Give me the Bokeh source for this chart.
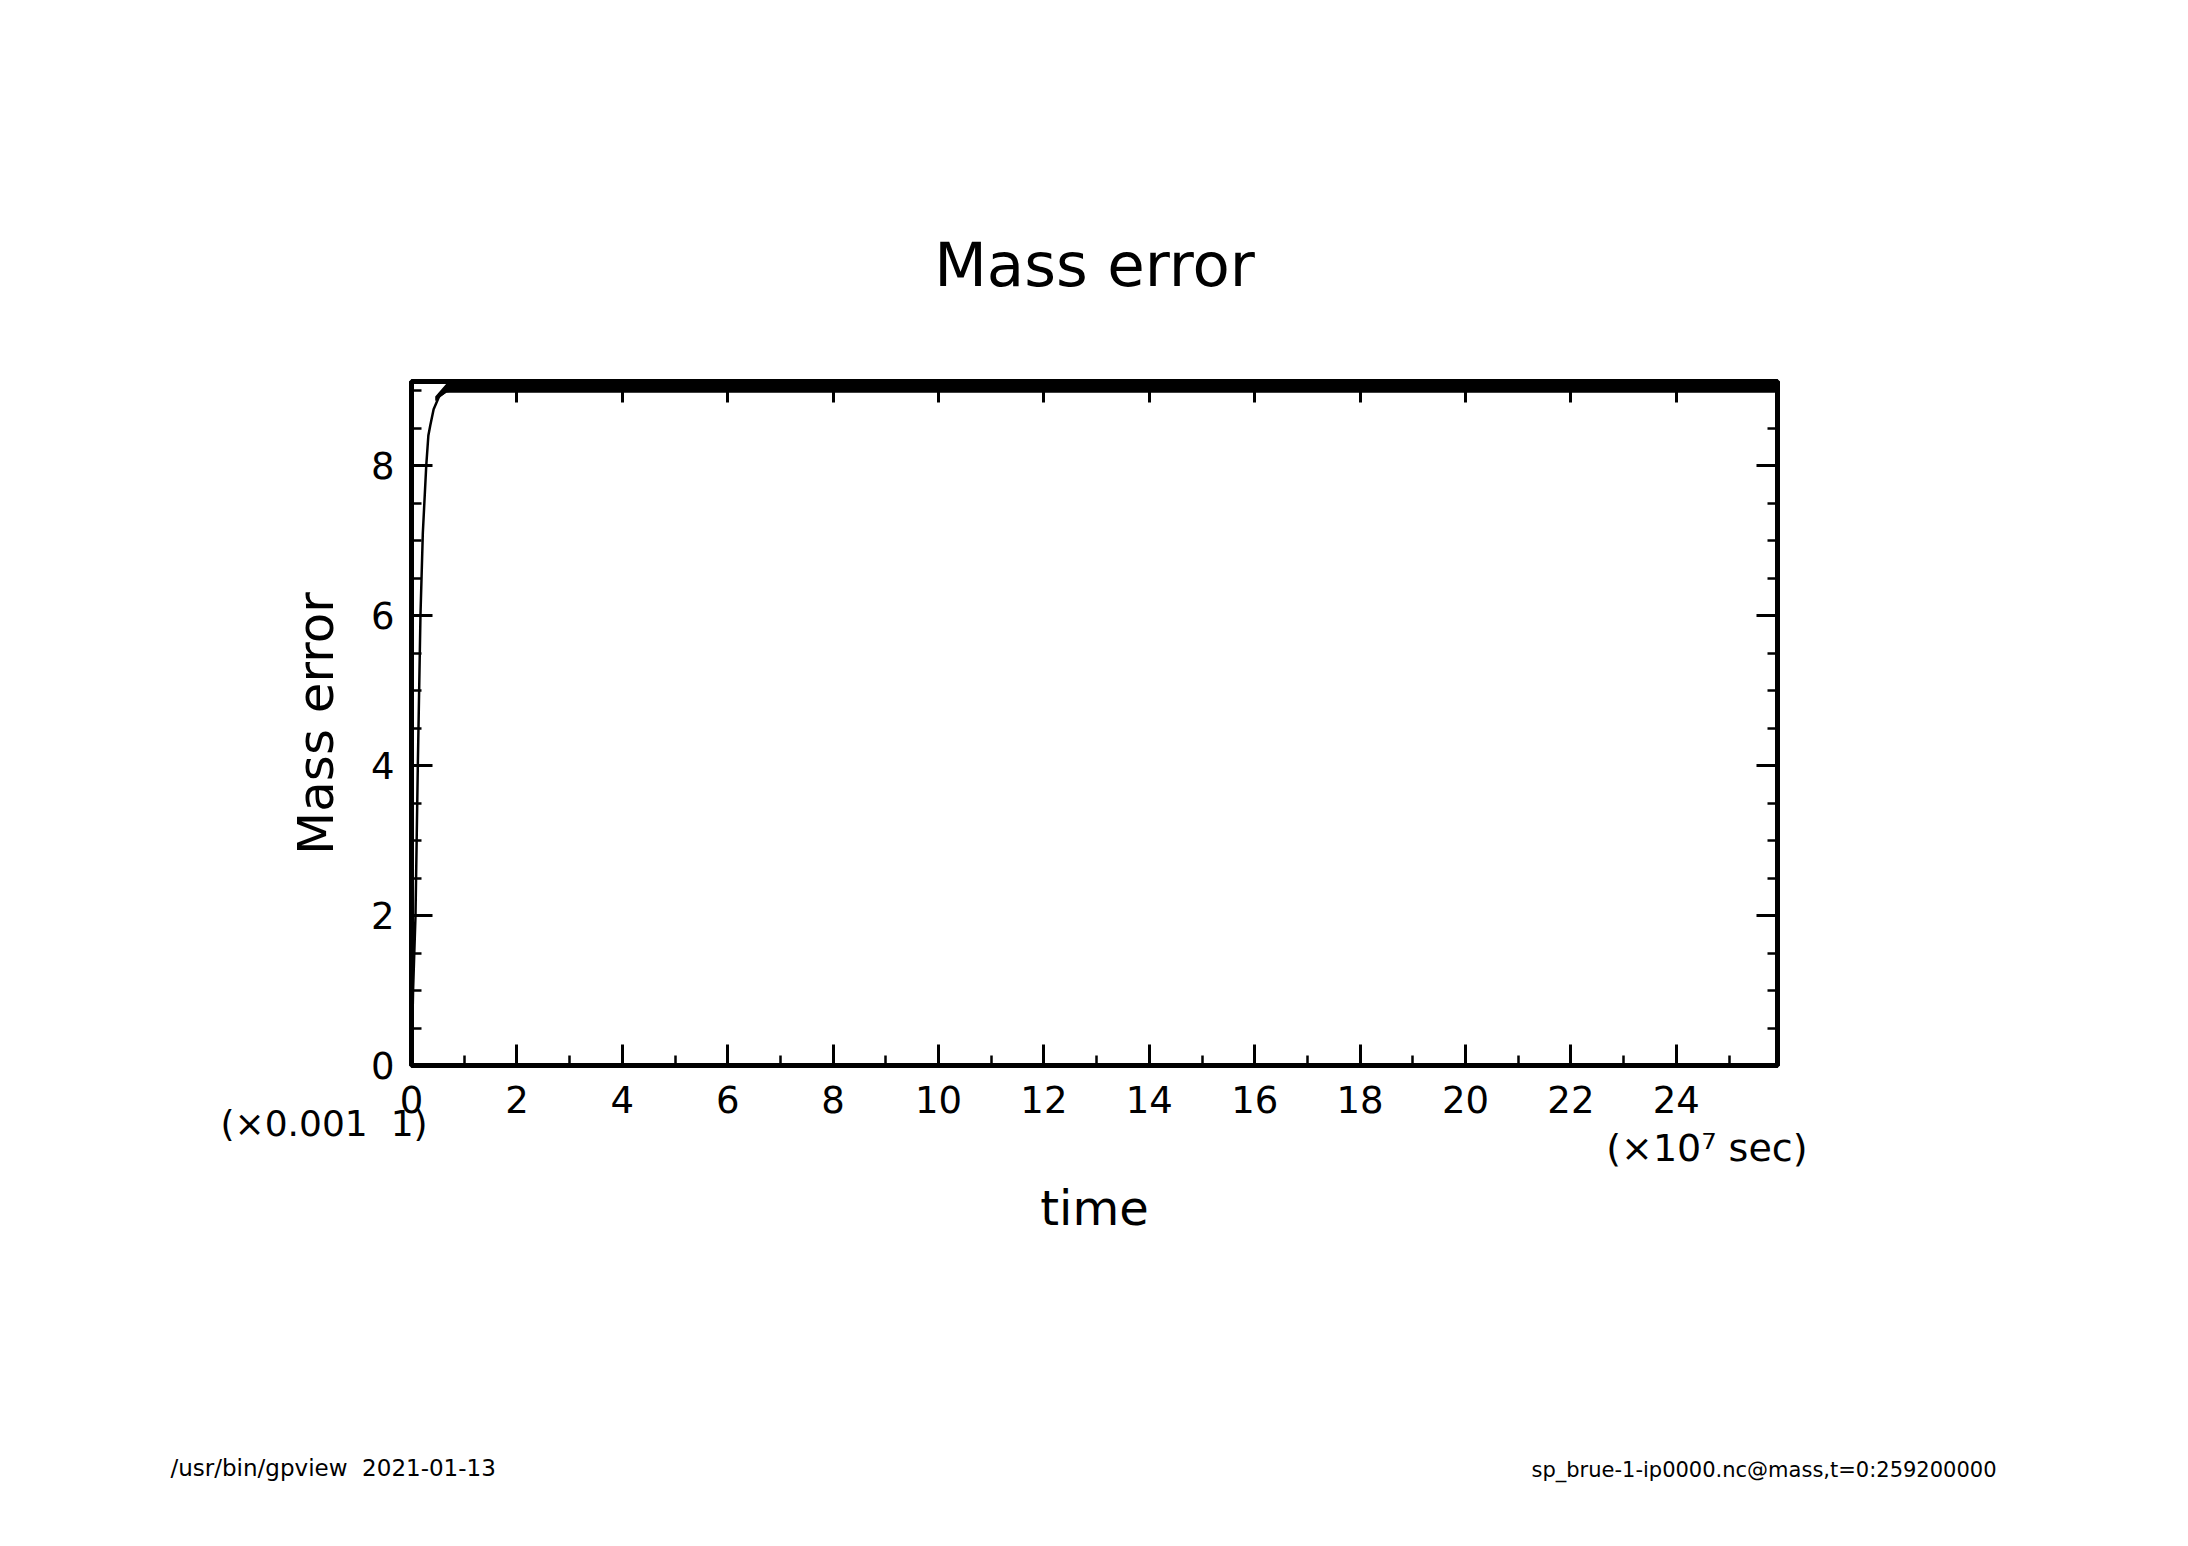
import math
from bokeh.plotting import figure
from bokeh.models import (Range1d, LinearAxis, FixedTicker, Title,
                          CustomJSTickFormatter)
from bokeh.embed import file_html
from bokeh.resources import INLINE

# ---- data (time in units of 1e7 sec, mass error in units of 0.001) ----
time_rise = [0.0, 0.03, 0.076, 0.12, 0.17, 0.215, 0.28, 0.32, 0.355, 0.42, 0.53, 0.66, 0.9, 25.92]
mass_rise = [0.0, 1.0, 2.0, 4.0, 6.0, 7.1, 8.0, 8.4, 8.53, 8.75, 8.93, 8.99, 9.02, 9.02]

# envelope of the fast oscillation after saturation
band_time = [0.45, 0.66, 25.92]
band_low = [8.86, 8.97, 8.97]
band_high = [8.92, 9.09, 9.09]

x_major = [0, 2, 4, 6, 8, 10, 12, 14, 16, 18, 20, 22, 24]
x_minor = list(range(0, 26))
y_major = [0, 2, 4, 6, 8]
y_minor = [0, 0.5, 1, 1.5, 2, 2.5, 3, 3.5, 4, 4.5, 5, 5.5, 6, 6.5, 7, 7.5, 8, 8.5, 9]

X_MAX = 25.92
Y_MAX = 9.12

FONT = "DejaVu Sans"
W, H = 2172, 1530
NB = "\u00a0"  # keeps the double blanks of the original texts

p = figure(width=W, height=H, output_backend="svg", toolbar_location=None,
           x_range=Range1d(0, X_MAX), y_range=Range1d(0, Y_MAX),
           x_axis_type=None, y_axis_type=None,
           min_border_left=411, min_border_right=395,
           min_border_top=381, min_border_bottom=465)
p.grid.visible = False
p.background_fill_color = "white"
p.border_fill_color = "white"
p.outline_line_color = "black"
p.outline_line_width = 5

p.title.text = "Mass error"
p.title.text_font = FONT
p.title.text_font_size = "61px"
p.title.text_font_style = "normal"
p.title.align = "center"
p.title.text_color = "black"
p.title.standoff = 163


def style_axis(ax, labels=True):
    ax.axis_line_width = 5
    ax.axis_line_color = "black"
    ax.major_tick_in = 21
    ax.major_tick_out = 0
    ax.minor_tick_in = 10
    ax.minor_tick_out = 0
    ax.major_tick_line_width = 3
    ax.minor_tick_line_width = 2.5
    ax.major_tick_line_color = "black"
    ax.minor_tick_line_color = "black"
    ax.major_label_text_font = FONT
    ax.major_label_text_font_size = "37px"
    ax.major_label_text_color = "black"
    ax.axis_label_text_font = FONT
    ax.axis_label_text_font_style = "normal"
    ax.axis_label_text_color = "black"
    if not labels:
        ax.formatter = CustomJSTickFormatter(code="return ''")
        ax.major_label_text_font_size = "0px"
        ax.major_label_standoff = 0


xt = FixedTicker(ticks=x_major, minor_ticks=x_minor)
yt = FixedTicker(ticks=y_major, minor_ticks=y_minor)

bx = LinearAxis(ticker=xt)
style_axis(bx)
bx.major_label_standoff = 20
p.add_layout(bx, "below")

tx = LinearAxis(ticker=FixedTicker(ticks=x_major, minor_ticks=x_minor))
style_axis(tx, labels=False)
p.add_layout(tx, "above")

ly = LinearAxis(ticker=yt)
style_axis(ly)
ly.major_label_standoff = 17
ly.axis_label = "Mass error"
ly.axis_label_text_font_size = "50px"
ly.axis_label_standoff = 23
p.add_layout(ly, "left")

ry = LinearAxis(ticker=FixedTicker(ticks=y_major, minor_ticks=y_minor))
style_axis(ry, labels=False)
p.add_layout(ry, "right")

# data
p.varea(x=band_time, y1=band_low, y2=band_high, fill_color="black")
p.line(time_rise, mass_rise, line_color="black", line_width=2.5)


def side_title(text, size_px, align, offset, standoff):
    t = Title(text=text, text_font=FONT, text_font_size=f"{size_px}px",
              text_font_style="normal", text_color="black",
              align=align, offset=offset, standoff=standoff,
              vertical_align="middle")
    p.add_layout(t, "below")


FRAME_L = 412
FRAME_R = 1778

# stacked text rows under the x axis
side_title(f"(×0.001{NB}{NB}1)", 36, "left", 221 - FRAME_L, -28)
side_title("(×10⁷ sec)", 38, "right", FRAME_R - 1808, -12)
side_title("time", 48, "center", 0, 28)

# blank spacer (white tick, no labels) pushing the footer row down
spacer = LinearAxis(ticker=FixedTicker(ticks=[X_MAX / 2], minor_ticks=[]),
                    axis_line_color=None,
                    major_tick_line_color="white", major_tick_line_width=1,
                    minor_tick_line_color=None,
                    major_tick_in=0, major_tick_out=216, minor_tick_out=0,
                    major_label_standoff=0, major_label_text_font_size="0px",
                    formatter=CustomJSTickFormatter(code="return ''"))
p.add_layout(spacer, "below")

side_title(f"/usr/bin/gpview{NB}{NB}2021-01-13", 23, "left", 171 - FRAME_L, -26)
side_title("sp_brue-1-ip0000.nc@mass,t=0:259200000", 21, "left", 1532 - FRAME_L, -24)

open("out.html", "w").write(file_html(p, INLINE))
